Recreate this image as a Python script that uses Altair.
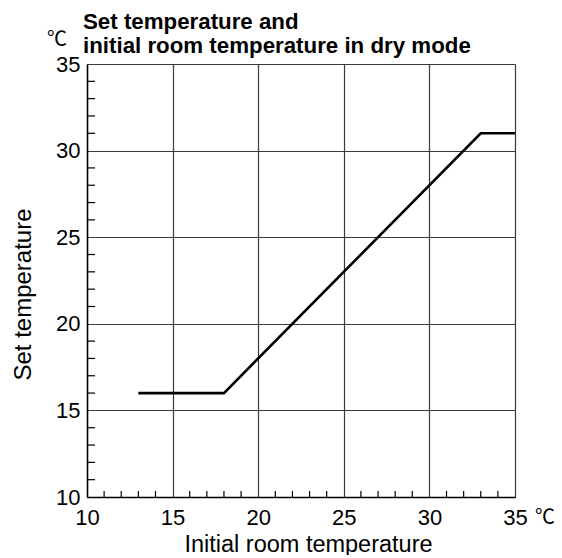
import altair as alt
import pandas as pd

# Data
room_temp = [13, 18, 33, 35]
set_temp = [16, 16, 31, 31]
major_ticks = [10, 15, 20, 25, 30, 35]
minor_ticks = [v for v in range(11, 35) if v % 5 != 0]
title_lines = ["Set temperature and", "initial room temperature in dry mode"]

W, H = 428, 433
FONT = "Liberation Sans"

line_df = pd.DataFrame({"room": room_temp, "set": set_temp})
minor_df = pd.DataFrame({"v": minor_ticks})

xscale = alt.Scale(domain=[10, 35], nice=False, zero=False)
yscale = alt.Scale(domain=[10, 35], nice=False, zero=False)

xaxis = alt.Axis(
    values=major_ticks, grid=True, gridColor="#3a3a3a", gridWidth=1.2,
    ticks=False, tickSize=0, domainColor="#000", domainWidth=1.5,
    labelFont=FONT, labelFontSize=22, labelColor="#000", labelPadding=10,
    labelFlush=False, labelOverlap=False, format="d",
    title="Initial room temperature", titleFont=FONT, titleFontSize=23.5,
    titleFontWeight="normal", titleColor="#000",
    titleBaseline="alphabetic", titleX=221, titleY=54,
)
yaxis = alt.Axis(
    values=major_ticks, grid=True, gridColor="#3a3a3a", gridWidth=1.2,
    ticks=False, tickSize=0, domainColor="#000", domainWidth=1.5,
    labelFont=FONT, labelFontSize=22, labelColor="#000", labelPadding=7,
    labelFlush=False, labelOverlap=False, format="d",
    title="Set temperature", titleFont=FONT, titleFontSize=24,
    titleFontWeight="normal", titleColor="#000", titleAngle=-90,
    titleBaseline="alphabetic", titleX=-57, titleY=230,
)

line = alt.Chart(line_df).mark_line(color="#000", strokeWidth=2.6).encode(
    x=alt.X("room:Q", scale=xscale, axis=xaxis),
    y=alt.Y("set:Q", scale=yscale, axis=yaxis),
)

xminor = alt.Chart(minor_df).mark_rule(color="#000", strokeWidth=1.2).encode(
    x=alt.X("v:Q", scale=xscale),
    y=alt.value(H),
    y2=alt.value(H - 6),
)
yminor = alt.Chart(minor_df).mark_rule(color="#000", strokeWidth=1.2).encode(
    y=alt.Y("v:Q", scale=yscale),
    x=alt.value(0),
    x2=alt.value(8),
)

title1 = alt.Chart(pd.DataFrame({"t": [title_lines[0]]})).mark_text(
    font=FONT, fontSize=22.3, fontWeight="bold", color="#000",
    align="left", baseline="alphabetic"
).encode(text="t:N", x=alt.value(-4), y=alt.value(-35))
title2 = alt.Chart(pd.DataFrame({"t": [title_lines[1]]})).mark_text(
    font=FONT, fontSize=22.3, fontWeight="bold", color="#000",
    align="left", baseline="alphabetic"
).encode(text="t:N", x=alt.value(-4), y=alt.value(-11))

unit_y = alt.Chart(pd.DataFrame({"t": ["℃"]})).mark_text(
    font="Noto Sans CJK JP", fontSize=20, color="#000"
).encode(text="t:N", x=alt.value(-30), y=alt.value(-24))
unit_x = alt.Chart(pd.DataFrame({"t": ["℃"]})).mark_text(
    font="Noto Sans CJK JP", fontSize=20, color="#000"
).encode(text="t:N", x=alt.value(458), y=alt.value(H + 21))

chart = alt.layer(xminor, yminor, line, title1, title2, unit_y, unit_x).properties(
    width=W, height=H,
    autosize=alt.AutoSizeParams(type="none"),
    padding={"left": 79, "top": 56, "right": 39, "bottom": 58},
).configure_view(stroke=None)

chart.save("out.html", embed_options={"renderer": "svg", "actions": False})
